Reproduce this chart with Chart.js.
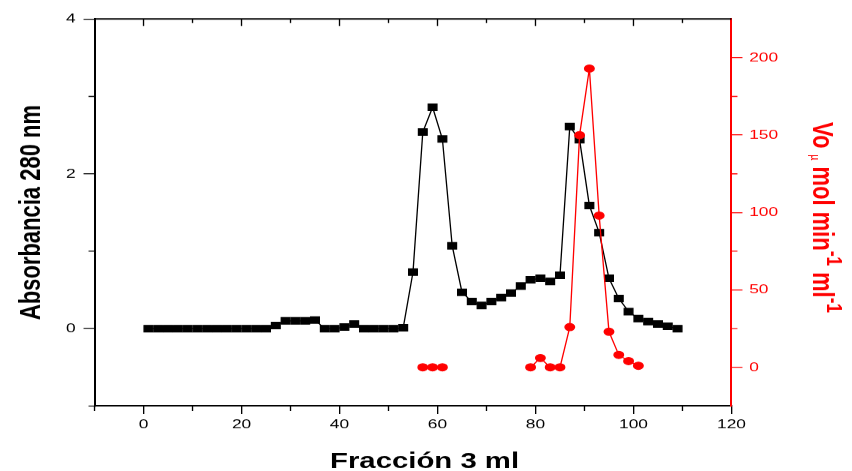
<!DOCTYPE html>
<html>
<head>
<meta charset="utf-8">
<script src="https://cdn.jsdelivr.net/npm/chart.js@4/dist/chart.umd.min.js"></script>
<style>
  html, body { margin: 0; padding: 0; background: #ffffff; overflow: hidden; }
  /* the plot is laid out on a narrower canvas and widened, giving the wide lettering and oval markers */
  #wrap { width: 639px; height: 471px; transform: scaleX(1.3333333); transform-origin: 0 0; }
</style>
</head>
<body>
<div id="wrap"><canvas id="chart" width="639" height="471"></canvas></div>
<script>
// Gel filtration profile: absorbance at 280 nm and enzyme activity per fraction
const fractions = [1, 3, 5, 7, 9, 11, 13, 15, 17, 19, 21, 23, 25, 27, 29, 31, 33, 35, 37, 39,
  41, 43, 45, 47, 49, 51, 53, 55, 57, 59, 61, 63, 65, 67, 69, 71, 73, 75, 77, 79,
  81, 83, 85, 87, 89, 91, 93, 95, 97, 99, 101, 103, 105, 107, 109];
const absorbance = [0, 0, 0, 0, 0, 0, 0, 0, 0, 0, 0, 0, 0, 0.04, 0.10, 0.10, 0.10, 0.11, 0, 0,
  0.02, 0.06, 0, 0, 0, 0, 0.01, 0.73, 2.54, 2.86, 2.45, 1.07, 0.47, 0.35, 0.30, 0.35, 0.40, 0.46, 0.55, 0.63,
  0.65, 0.61, 0.69, 2.61, 2.44, 1.59, 1.24, 0.65, 0.39, 0.22, 0.13, 0.09, 0.06, 0.03, 0];

const activityFractions = [57, 59, 61, 79, 81, 83, 85, 87, 89, 91, 93, 95, 97, 99, 101];
const activityValues = [0, 0, 0, 0, 6, 0, 0, 26, 150, 193, 98, 23, 8, 4, 1];

// Axis ticks
const xTicks = [0, 20, 40, 60, 80, 100, 120];
const xMinorTicks = [-10, 10, 30, 50, 70, 90, 110];
const yTicks = [0, 2, 4];
const yMinorTicks = [-1, 1, 3];
const y2Ticks = [0, 50, 100, 150, 200];
const y2MinorTicks = [25, 75, 125, 175];

const xTitle = 'Fracción 3 ml';
const yTitle = 'Absorbancia 280 nm';

const RED = '#ff0000';
const BLACK = '#000000';
const FONT = "'Liberation Sans', Arial, Helvetica, sans-serif";

const toPoints = (xs, ys) => xs.map((x, i) => ({ x: x, y: ys[i] }));
const fixTicks = values => scale => { scale.ticks = values.map(v => ({ value: v })); };

// Frame extras: top border with inward ticks, minor ticks, axis titles
const frameExtras = {
  id: 'frameExtras',
  afterDraw(chart) {
    const ctx = chart.ctx;
    const area = chart.chartArea;
    const sx = chart.scales.x, sy = chart.scales.y, sy2 = chart.scales.y2;
    ctx.save();

    // top border
    ctx.strokeStyle = BLACK;
    ctx.lineWidth = 1.5;
    ctx.beginPath();
    ctx.moveTo(area.left, area.top);
    ctx.lineTo(area.right, area.top);
    ctx.stroke();

    // inward ticks along the top border
    ctx.lineWidth = 1;
    ctx.beginPath();
    xTicks.filter(v => v < 120).forEach(v => {
      const px = sx.getPixelForValue(v);
      ctx.moveTo(px, area.top);
      ctx.lineTo(px, area.top + 7);
    });
    xMinorTicks.filter(v => v > -10).forEach(v => {
      const px = sx.getPixelForValue(v);
      ctx.moveTo(px, area.top);
      ctx.lineTo(px, area.top + 4);
    });
    ctx.stroke();

    // minor ticks on bottom axis
    ctx.beginPath();
    xMinorTicks.forEach(v => {
      const px = sx.getPixelForValue(v);
      ctx.moveTo(px, area.bottom);
      ctx.lineTo(px, area.bottom + 5);
    });
    ctx.stroke();

    // minor ticks on left axis
    ctx.beginPath();
    yMinorTicks.forEach(v => {
      const py = sy.getPixelForValue(v);
      ctx.moveTo(area.left, py);
      ctx.lineTo(area.left - 4.5, py);
    });
    ctx.stroke();

    // minor ticks on right axis
    ctx.strokeStyle = RED;
    ctx.beginPath();
    y2MinorTicks.forEach(v => {
      const py = sy2.getPixelForValue(v);
      ctx.moveTo(area.right, py);
      ctx.lineTo(area.right + 4.5, py);
    });
    ctx.stroke();

    // bottom axis title
    ctx.fillStyle = BLACK;
    ctx.font = 'bold 22px ' + FONT;
    ctx.textAlign = 'center';
    ctx.textBaseline = 'alphabetic';
    ctx.fillText(xTitle, 318.4, 468);

    // left axis title
    ctx.save();
    ctx.translate(30, (area.top + area.bottom) / 2);
    ctx.rotate(-Math.PI / 2);
    ctx.fillText(yTitle, 0, 0);
    ctx.restore();

    // right axis title with superscripts
    ctx.save();
    ctx.fillStyle = RED;
    ctx.translate(609.5, 122);
    ctx.rotate(Math.PI / 2);
    ctx.textAlign = 'left';
    const parts = [
      { t: 'Vo ', f: 'bold 22px ', dy: 0 },
      { t: 'µ', f: '10px ', dy: 1 },
      { t: ' mol min', f: 'bold 22px ', dy: 0 },
      { t: '-1', f: 'bold 17px ', dy: -11 },
      { t: ' ml', f: 'bold 22px ', dy: 0 },
      { t: '-1', f: 'bold 17px ', dy: -11 }
    ];
    let cx = 0;
    parts.forEach(p => {
      ctx.font = p.f + FONT;
      ctx.fillText(p.t, cx, p.dy);
      cx += ctx.measureText(p.t).width;
    });
    ctx.restore();

    ctx.restore();
  }
};

new Chart(document.getElementById('chart'), {
  type: 'line',
  data: {
    datasets: [
      {
        label: 'Vo',
        data: toPoints(activityFractions, activityValues),
        yAxisID: 'y2',
        order: 0,
        borderColor: RED,
        backgroundColor: RED,
        borderWidth: 1,
        pointStyle: 'circle',
        pointRadius: 3.6,
        pointBorderWidth: 1,
        pointBorderColor: RED,
        pointBackgroundColor: RED,
        spanGaps: 4,
        tension: 0
      },
      {
        label: 'Absorbancia 280 nm',
        data: toPoints(fractions, absorbance),
        yAxisID: 'y',
        order: 1,
        borderColor: BLACK,
        backgroundColor: BLACK,
        borderWidth: 1,
        pointStyle: 'rect',
        pointRadius: 4.6,
        pointBorderWidth: 1,
        pointBorderColor: BLACK,
        pointBackgroundColor: BLACK,
        tension: 0
      }
    ]
  },
  options: {
    responsive: false,
    animation: false,
    devicePixelRatio: 4 / 3,
    layout: { padding: { top: 19, left: 0, right: 0, bottom: 0 } },
    plugins: { legend: { display: false }, tooltip: { enabled: false } },
    scales: {
      x: {
        type: 'linear',
        position: 'bottom',
        min: -10,
        max: 120,
        afterBuildTicks: fixTicks(xTicks),
        afterFit: s => { s.height = 65; },
        ticks: { color: BLACK, font: { family: FONT, size: 13 }, padding: 3, autoSkip: false, maxRotation: 0 },
        grid: { display: true, drawOnChartArea: false, drawTicks: true, tickLength: 8, color: BLACK, lineWidth: 1 },
        border: { display: true, color: BLACK, width: 1.5 }
      },
      y: {
        type: 'linear',
        position: 'left',
        min: -1,
        max: 4,
        afterBuildTicks: fixTicks(yTicks),
        afterFit: s => { s.width = 70.9; },
        ticks: { color: BLACK, font: { family: FONT, size: 13 }, padding: 6 },
        grid: { display: true, drawOnChartArea: false, drawTicks: true, tickLength: 8.25, color: BLACK, lineWidth: 1 },
        border: { display: true, color: BLACK, width: 1.5 }
      },
      y2: {
        type: 'linear',
        position: 'right',
        min: -25,
        max: 225,
        afterBuildTicks: fixTicks(y2Ticks),
        afterFit: s => { s.width = 90.4; },
        ticks: { color: RED, font: { family: FONT, size: 13 }, padding: 5 },
        grid: { display: true, drawOnChartArea: false, drawTicks: true, tickLength: 8.25, color: RED, lineWidth: 1 },
        border: { display: true, color: RED, width: 1.5 }
      }
    }
  },
  plugins: [frameExtras]
});
</script>
</body>
</html>
